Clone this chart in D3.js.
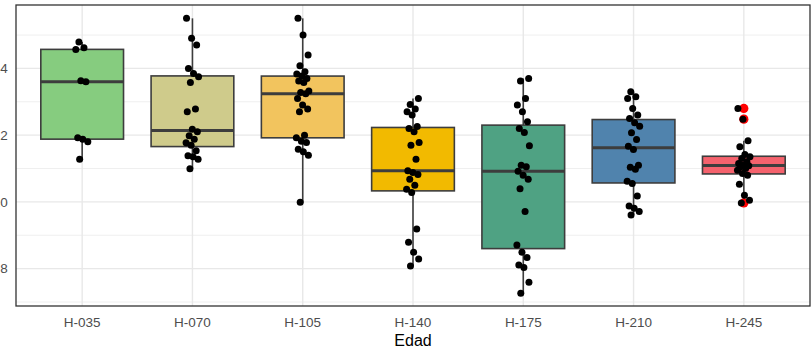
<!DOCTYPE html>
<html>
<head>
<meta charset="utf-8">
<script src="https://cdn.jsdelivr.net/npm/d3@7"></script>
<style>
  html, body { margin: 0; padding: 0; background: #fff; }
  svg { display: block; font-family: "Liberation Sans", Arial, sans-serif; }
</style>
</head>
<body>
<svg id="chart" width="812" height="349"></svg>
<script>
// Age groups on the x axis
const categories = ["H-035", "H-070", "H-105", "H-140", "H-175", "H-210", "H-245"];

// Fill colour of each group's box
const boxColors = ["#86cc7f", "#cfcb8b", "#f2c45e", "#f2ba00", "#4fa283", "#5083ad", "#f5626d"];

// Measurements per group
const h035 = [11.28, 11.80, 11.88, 11.92, 13.60, 13.63, 14.57, 14.62, 14.79];
const h070 = [10.99, 11.28, 11.35, 11.38, 11.53, 11.70, 11.77, 11.88, 11.98, 12.10,
              12.18, 12.70, 12.78, 13.58, 13.75, 13.85, 14.00, 14.70, 14.90, 15.50];
const h105 = [9.99, 11.40, 11.50, 11.58, 11.78, 11.82, 11.92, 12.00, 12.70, 12.78,
              12.90, 13.10, 13.24, 13.28, 13.32, 13.58, 13.62, 13.70, 13.77, 13.83,
              13.90, 14.08, 14.40, 15.00, 15.50];
const h140 = [8.08, 8.29, 8.49, 8.79, 9.19, 10.28, 10.38, 10.50, 10.68, 10.82,
              10.88, 10.93, 11.28, 11.70, 11.78, 12.10, 12.20, 12.26, 12.60, 12.70,
              12.78, 12.92, 13.10];
const h175 = [7.26, 7.59, 8.03, 8.11, 8.33, 8.49, 8.71, 9.71, 10.39, 10.68,
              10.80, 10.92, 11.05, 11.10, 11.68, 12.08, 12.20, 12.40, 12.70, 12.90,
              13.10, 13.62, 13.70];
const h210 = [9.61, 9.71, 9.81, 9.88, 10.18, 10.55, 10.62, 10.98, 11.04, 11.10,
              11.57, 11.67, 11.87, 12.07, 12.27, 12.37, 12.50, 12.60, 12.80, 13.10,
              13.15, 13.30];
const h245 = [9.97, 10.05, 10.20, 10.53, 10.80, 10.85, 10.95, 11.00, 11.05, 11.08,
              11.10, 11.15, 11.20, 11.30, 11.35, 11.42, 11.65, 11.83, 12.48, 12.80];

const seriesValues = [h035, h070, h105, h140, h175, h210, h245];

// Y axis ticks
const yMajorTicks = [8, 10, 12, 14];
const yMinorTicks = [7, 9, 11, 13, 15];

const panel = { left: 16, right: 810, top: 5, bottom: 306 };

const svg = d3.select("#chart");

const x = d3.scalePoint()
  .domain(categories)
  .range([panel.left, panel.right])
  .padding(0.6);

const y = d3.scaleLinear()
  .domain([6.88, 15.9])
  .range([panel.bottom, panel.top]);

const step = x.step();
const boxW = step * 0.75;

// Panel grid
const grid = svg.append("g");
grid.selectAll("line.minor")
  .data(yMinorTicks)
  .join("line")
  .attr("x1", panel.left).attr("x2", panel.right)
  .attr("y1", d => y(d)).attr("y2", d => y(d))
  .attr("stroke", "#efefef").attr("stroke-width", 1);
grid.selectAll("line.major")
  .data(yMajorTicks)
  .join("line")
  .attr("x1", panel.left).attr("x2", panel.right)
  .attr("y1", d => y(d)).attr("y2", d => y(d))
  .attr("stroke", "#e8e8e8").attr("stroke-width", 1.4);
grid.selectAll("line.vert")
  .data(categories)
  .join("line")
  .attr("x1", d => x(d)).attr("x2", d => x(d))
  .attr("y1", panel.top).attr("y2", panel.bottom)
  .attr("stroke", "#e8e8e8").attr("stroke-width", 1.4);

// Box statistics (Tukey: whiskers reach the furthest point within 1.5 IQR)
function stats(vals) {
  const s = vals.slice().sort(d3.ascending);
  const q1 = d3.quantile(s, 0.25);
  const med = d3.quantile(s, 0.5);
  const q3 = d3.quantile(s, 0.75);
  const iqr = q3 - q1;
  const lo = q1 - 1.5 * iqr, hi = q3 + 1.5 * iqr;
  const inside = s.filter(v => v >= lo && v <= hi);
  return {
    q1, med, q3,
    wLo: d3.min(inside), wHi: d3.max(inside),
    outliers: s.filter(v => v < lo || v > hi)
  };
}

const groups = categories.map((c, i) => ({
  cat: c, color: boxColors[i], values: seriesValues[i], s: stats(seriesValues[i])
}));

const boxes = svg.append("g");
groups.forEach(g => {
  const cx = x(g.cat);
  const b = boxes.append("g");
  // whiskers
  b.append("line")
    .attr("x1", cx).attr("x2", cx)
    .attr("y1", y(g.s.q3)).attr("y2", y(g.s.wHi))
    .attr("stroke", "#3d3d3d").attr("stroke-width", 1.6);
  b.append("line")
    .attr("x1", cx).attr("x2", cx)
    .attr("y1", y(g.s.q1)).attr("y2", y(g.s.wLo))
    .attr("stroke", "#3d3d3d").attr("stroke-width", 1.6);
  // box
  b.append("rect")
    .attr("x", cx - boxW / 2).attr("width", boxW)
    .attr("y", y(g.s.q3)).attr("height", y(g.s.q1) - y(g.s.q3))
    .attr("fill", g.color)
    .attr("stroke", "#3d3d3d").attr("stroke-width", 1.6);
  // median
  b.append("line")
    .attr("x1", cx - boxW / 2).attr("x2", cx + boxW / 2)
    .attr("y1", y(g.s.med)).attr("y2", y(g.s.med))
    .attr("stroke", "#3d3d3d").attr("stroke-width", 3);
  // outliers
  b.selectAll("circle")
    .data(g.s.outliers)
    .join("circle")
    .attr("cx", cx).attr("cy", d => y(d))
    .attr("r", 4.6)
    .attr("fill", "#ff0000");
});

// Jittered observations (deterministic spread around each group centre)
const points = svg.append("g");
groups.forEach(g => {
  const cx = x(g.cat);
  points.selectAll(null)
    .data(g.values)
    .join("circle")
    .attr("cx", (d, i) => cx + (((i * 0.6180339 + 0.31) % 1) - 0.5) * 0.12 * step)
    .attr("cy", d => y(d))
    .attr("r", 3.5)
    .attr("fill", "#000");
});

// Panel border
svg.append("rect")
  .attr("x", panel.left).attr("y", panel.top)
  .attr("width", panel.right - panel.left)
  .attr("height", panel.bottom - panel.top)
  .attr("fill", "none")
  .attr("stroke", "#333").attr("stroke-width", 1.3);

// Y axis labels
svg.append("g")
  .selectAll("text")
  .data(yMajorTicks)
  .join("text")
  .attr("x", 7.8)
  .attr("y", d => y(d))
  .attr("dy", "0.35em")
  .attr("text-anchor", "end")
  .attr("fill", "#4d4d4d")
  .attr("font-size", 13.5)
  .text(d => d);

// X axis labels
svg.append("g")
  .selectAll("text")
  .data(categories)
  .join("text")
  .attr("x", d => x(d))
  .attr("y", 322)
  .attr("dy", "0.35em")
  .attr("text-anchor", "middle")
  .attr("fill", "#4d4d4d")
  .attr("font-size", 13.5)
  .text(d => d);

svg.append("text")
  .attr("x", (panel.left + panel.right) / 2)
  .attr("y", 340)
  .attr("dy", "0.35em")
  .attr("text-anchor", "middle")
  .attr("fill", "#000")
  .attr("font-size", 16)
  .text("Edad");
</script>
</body>
</html>
